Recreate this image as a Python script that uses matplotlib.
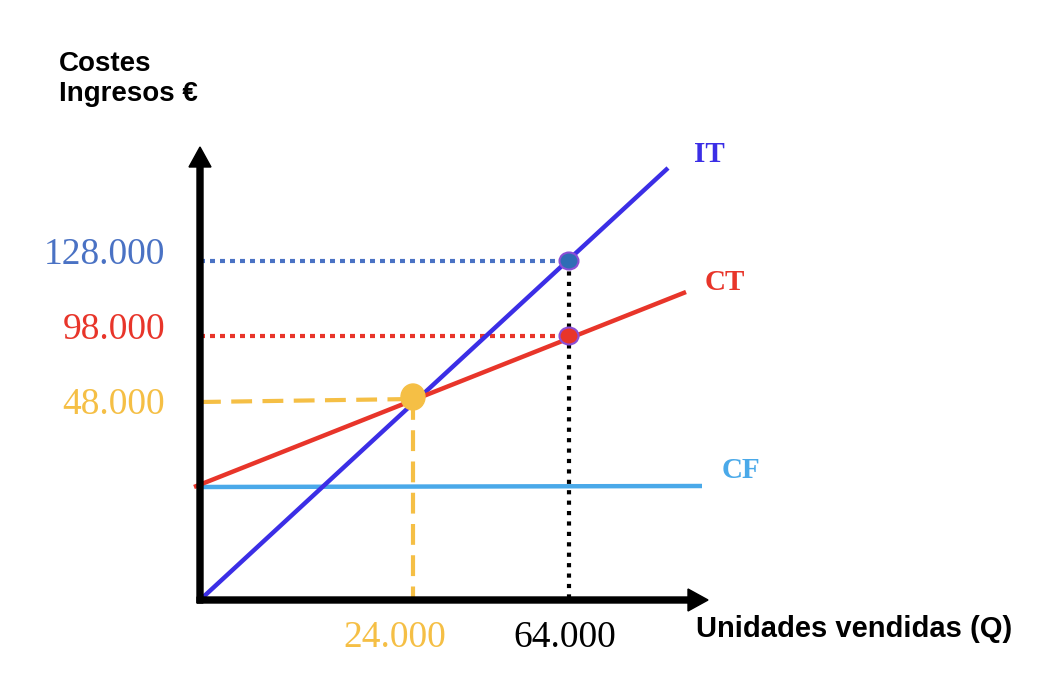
import matplotlib.pyplot as plt
from matplotlib.patches import Ellipse

# Valores del gráfico (punto muerto)
ingreso_unitario = 2.0      # IT = 2 * Q
coste_variable = 1.25       # CT = CF + 1.25 * Q
coste_fijo = 18000

q_etiquetas = ["24.000", "64.000"]
y_etiquetas = ["128.000", "98.000", "48.000"]

# Esquema sin escala real: posiciones del dibujo (en px desde el origen)
q_pos = [213, 369]          # 24.000 y 64.000
y_pos_it = 339              # 128.000
y_pos_ct = 264              # 98.000
y_pos_pm = 201              # 48.000
y_pos_cf = 113              # CF

azul = '#3b2ee6'
rojo = '#e8352a'
celeste = '#4aa9e9'
amarillo = '#f5bf45'
azul_punt = '#4a72c4'
morado = '#8b4fd6'

fig = plt.figure(figsize=(10.54, 6.76), dpi=100)
ax = fig.add_axes([0, 0, 1, 1])
ax.set_xlim(-200, 854)
ax.set_ylim(-76, 600)
ax.axis('off')

# Ejes con flecha
ax.arrow(0, -3, 0, 456, width=6, head_width=22, head_length=20,
         length_includes_head=True, color='black', zorder=5)
ax.arrow(-3, 0, 511, 0, width=6, head_width=22, head_length=20,
         length_includes_head=True, color='black', zorder=5)

# Rectas
ax.plot([0, 468], [0, 432], color=azul, lw=3.2, solid_capstyle='butt', zorder=3)
ax.plot([-6, 486], [y_pos_cf, 308], color=rojo, lw=3.2, solid_capstyle='butt', zorder=3)
ax.plot([0, 502], [y_pos_cf, y_pos_cf + 1], color=celeste, lw=3.2, solid_capstyle='butt', zorder=2)

# Líneas de referencia
ax.plot([0, q_pos[1]], [y_pos_it, y_pos_it], color=azul_punt, lw=3, dashes=(1.2, 1.2), zorder=2)
ax.plot([0, q_pos[1]], [y_pos_ct, y_pos_ct], color=rojo, lw=3, dashes=(1.2, 1.2), zorder=2)
ax.plot([q_pos[1], q_pos[1]], [y_pos_it, 0], color='black', lw=3, dashes=(1, 1.5), zorder=2)
ax.plot([0, q_pos[0]], [198, y_pos_pm], color=amarillo, lw=3, dashes=(5, 2.5), zorder=2)
ax.plot([q_pos[0], q_pos[0]], [y_pos_pm, 0], color=amarillo, lw=3, dashes=(5, 2.5), zorder=2)

# Puntos
ax.add_patch(Ellipse((q_pos[0], y_pos_pm + 2), 24, 26, color=amarillo, zorder=6))
ax.add_patch(Ellipse((q_pos[1], y_pos_it), 19, 17, facecolor='#2f6db5',
                     edgecolor=morado, lw=1.5, zorder=6))
ax.add_patch(Ellipse((q_pos[1], y_pos_ct), 19, 17, facecolor=rojo,
                     edgecolor=morado, lw=1.5, zorder=6))

# Etiquetas de los ejes
serif = 'Liberation Serif'
sans = 'Liberation Sans'
for txt, y, c in zip(y_etiquetas, [345, 270, 195], [azul_punt, rojo, amarillo]):
    ax.text(-35, y, txt, ha='right', va='center', fontsize=27, family=serif, color=c)
for txt, x, c in zip(q_etiquetas, [195, 365], [amarillo, 'black']):
    ax.text(x, -38, txt, ha='center', va='center', fontsize=27, family=serif, color=c)

ax.text(509, 446, 'IT', ha='center', va='center', fontsize=21, family=serif,
        fontweight='bold', color=azul)
ax.text(525, 317, 'CT', ha='center', va='center', fontsize=21, family=serif,
        fontweight='bold', color=rojo)
ax.text(541, 130, 'CF', ha='center', va='center', fontsize=21, family=serif,
        fontweight='bold', color=celeste)

ax.text(-141, 529, 'Costes', ha='left', va='baseline', fontsize=20,
        family=sans, fontweight='bold')
ax.text(-141, 499, 'Ingresos €', ha='left', va='baseline', fontsize=20,
        family=sans, fontweight='bold')
ax.text(496, -37, 'Unidades vendidas (Q)', ha='left', va='baseline', fontsize=21,
        family=sans, fontweight='bold')

fig.savefig('out.png', dpi=100)
